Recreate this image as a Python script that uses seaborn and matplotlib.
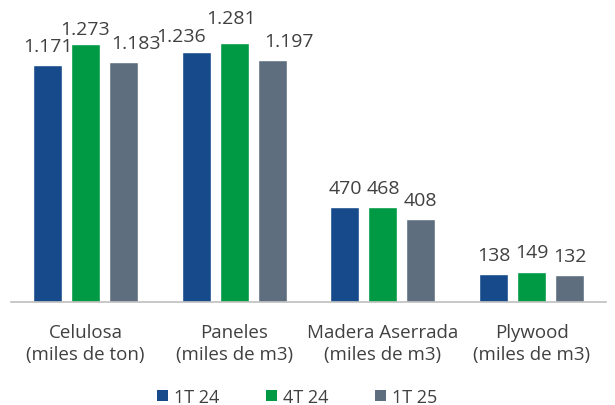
import matplotlib
matplotlib.use("Agg")
import matplotlib.pyplot as plt
from matplotlib.patches import Patch
import seaborn as sns
import pandas as pd

categories = ["Celulosa\n(miles de ton)", "Paneles\n(miles de m3)",
              "Madera Aserrada\n(miles de m3)", "Plywood\n(miles de m3)"]
series = ["1T 24", "4T 24", "1T 25"]
val_1t24 = [1171, 1236, 470, 138]
val_4t24 = [1273, 1281, 468, 149]
val_1t25 = [1183, 1197, 408, 132]

colors = ["#174a8b", "#009a44", "#5e6e7e"]
text_color = "#404040"

rows = []
for s, vals in zip(series, [val_1t24, val_4t24, val_1t25]):
    for c, v in zip(categories, vals):
        rows.append({"cat": c, "serie": s, "valor": v})
df = pd.DataFrame(rows)

sns.set_theme(style="white")
plt.rcParams["font.family"] = ["Open Sans", "DejaVu Sans"]

fig = plt.figure(figsize=(6.15, 4.06), dpi=100)
ax = fig.add_axes([11 / 615, 1 - 303 / 406, 595 / 615, (303 - 19.4) / 406])

sns.barplot(data=df, x="cat", y="valor", hue="serie", order=categories,
            hue_order=series, palette=colors, width=0.765, gap=0.235,
            saturation=1, legend=False, ax=ax)

ax.set_xlim(-0.5, 3.5)
ax.set_ylim(0, 1400)
ax.set_xlabel("")
ax.set_ylabel("")
ax.set_yticks([])
for side in ["left", "right", "top"]:
    ax.spines[side].set_visible(False)
ax.spines["bottom"].set_color("#bfbfbf")
ax.spines["bottom"].set_linewidth(1.2)

ax.set_xticks(range(len(categories)))
ax.set_xticklabels(categories, fontsize=13.5, color=text_color, linespacing=1.33)
ax.tick_params(axis="x", which="major", length=0, pad=15)
ax.set_xticks([i - 0.5 for i in range(len(categories) + 1)], minor=True)
ax.tick_params(axis="x", which="minor", length=7, width=1.2, color="#bfbfbf")

# per-label nudges in pixels (dx, dy) where labels would collide
nudges = {(0, 1): (0, -4), (0, 2): (13, 0), (1, 0): (-15, -3),
          (1, 1): (-3, 6), (1, 2): (17, 0), (3, 1): (0, 1)}

for si, cont in enumerate(ax.containers):
    for ci, bar in enumerate(cont):
        h = bar.get_height()
        txt = f"{h:,.0f}".replace(",", ".")
        dx, dy = nudges.get((ci, si), (0, 0))
        ax.annotate(txt, (bar.get_x() + bar.get_width() / 2, h),
                    xytext=(dx, 19 + dy), textcoords="offset pixels",
                    ha="center", va="center", fontsize=14, color=text_color)

handles = [Patch(facecolor=c, edgecolor="none") for c in colors]
fig.legend(handles, series, loc="center", bbox_to_anchor=(297 / 615, 1 - 398 / 406),
           ncol=3, frameon=False, fontsize=13, labelcolor=text_color,
           handlelength=0.62, handleheight=0.62, handletextpad=0.3,
           columnspacing=2.6, borderpad=0)

fig.savefig("out.png", dpi=100)
